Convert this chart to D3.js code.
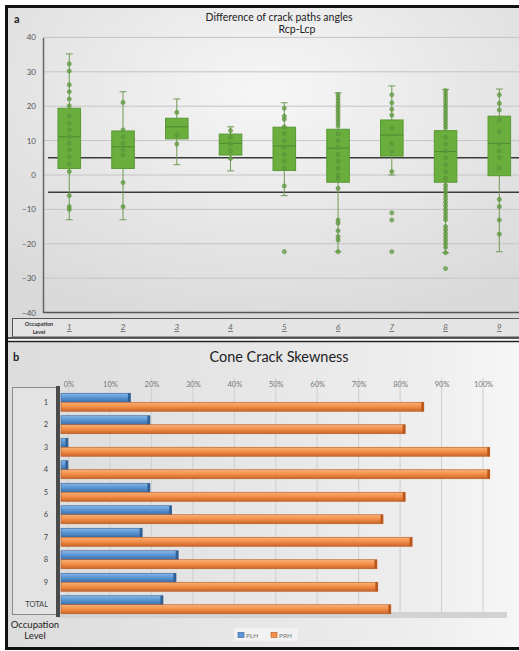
<!DOCTYPE html>
<html>
<head>
<meta charset="utf-8">
<script src="https://cdn.jsdelivr.net/npm/d3@7"></script>
<style>
  html, body { margin: 0; padding: 0; background: #ffffff; }
  svg { display: block; }
  text { font-family: Lato, "Open Sans", "DejaVu Sans", sans-serif; }
</style>
</head>
<body>
<script>
// ---------- Panel a: difference of crack path angles (Rcp - Lcp) ----------
const occupationLevels = ['1', '2', '3', '4', '5', '6', '7', '8', '9'];
const whiskerMin = [-13, -13, 3, 1.2, -6, -22.3, 0, -22.6, -22.3];
const quartile1  = [1.9, 1.9, 10.5, 5.8, 1.3, -2.1, 5.5, -2.1, -0.2];
const medians    = [11.1, 8.2, 14, 9.2, 8.4, 7.8, 11.6, 6.8, 9.2];
const quartile3  = [19.4, 12.8, 16.5, 11.9, 13.9, 13.3, 16, 12.9, 17.1];
const whiskerMax = [35.2, 24.2, 22.1, 14, 21, 23.9, 25.9, 24.9, 25];
const observations = [
  [32.3, 30.2, 26.2, 24.2, 22.1, 20.1, 17.1, 15, 13.1, 11.1, 9.2, 7.3, 5.3, 3.3, 1, -6, -9.2, -10],
  [21.1, 13.1, 11, 9.2, 7.3, 5.8, -2.2, -9.2],
  [18.2, 11.6, 9],
  [12.9, 11, 9, 7, 4.8],
  [19.4, 17.1, 16.2, 14, 12, 10, 8, 6, 4, 2, -3.2, -22.3],
  [23.3, 22.4, 21.5, 20.6, 19.7, 18.8, 17.9, 17, 16.1, 15.2, 14.3, 12, 10, 8, 6, 4, 2, 0, -1, -3.9,
   -13.1, -14, -16.2, -17.9, -18.9, -22.3],
  [23.3, 21, 19.1, 17.4, 13.6, 9.2, 6.8, 1, -11, -13.1, -22.3],
  [24.5, 23.6, 22.7, 21.8, 20.9, 20, 19.1, 18.2, 17.3, 16.4, 15.5, 14.6, 13.7, 11, 9, 7, 5, 3, 1, -1,
   -3, -4, -5, -6, -7, -8, -9, -10, -11, -12, -13, -15, -16, -17, -18, -19, -20, -21, -22.6, -27.2],
  [23.3, 20.8, 18.9, 16, 12.6, 9, 7, 5, 2, -7.1, -9.2, -13.1, -17.2]
];
const angleTicks = [40, 30, 20, 10, 0, -10, -20, -30, -40];
const referenceLines = [5, -5];

// ---------- Panel b: cone crack skewness ----------
const skewRows = ['1', '2', '3', '4', '5', '6', '7', '8', '9', 'TOTAL'];
const skewSeries = ['PLH', 'PRH'];
const plhShare = [0.16, 0.205, 0.016, 0.016, 0.205, 0.255, 0.187, 0.27, 0.265, 0.235];
const prhShare = [0.836, 0.793, 0.988, 0.988, 0.793, 0.742, 0.809, 0.728, 0.73, 0.76];
const percentTicks = [0, 0.1, 0.2, 0.3, 0.4, 0.5, 0.6, 0.7, 0.8, 0.9, 1.0];

const W = 519, H = 651;
const svg = d3.select('body').append('svg').attr('width', W).attr('height', H);
const defs = svg.append('defs');

// Background gradients
const gA = defs.append('radialGradient').attr('id', 'bgA').attr('cx', '50%').attr('cy', '25%').attr('r', '75%');
gA.append('stop').attr('offset', '0%').attr('stop-color', '#f6f6f6');
gA.append('stop').attr('offset', '100%').attr('stop-color', '#d9d9d9');
const gB = defs.append('linearGradient').attr('id', 'bgB').attr('x1', 0).attr('y1', 0).attr('x2', 1).attr('y2', 0);
gB.append('stop').attr('offset', '0%').attr('stop-color', '#dcdcdc');
gB.append('stop').attr('offset', '80%').attr('stop-color', '#eeeeee');
gB.append('stop').attr('offset', '100%').attr('stop-color', '#f7f7f7');
const gBlue = defs.append('linearGradient').attr('id', 'gBlue').attr('x1', 0).attr('y1', 0).attr('x2', 0).attr('y2', 1);
gBlue.append('stop').attr('offset', '0%').attr('stop-color', '#8bb8e6');
gBlue.append('stop').attr('offset', '45%').attr('stop-color', '#5b97d6');
gBlue.append('stop').attr('offset', '100%').attr('stop-color', '#3d6fa8');
const gOr = defs.append('linearGradient').attr('id', 'gOr').attr('x1', 0).attr('y1', 0).attr('x2', 0).attr('y2', 1);
gOr.append('stop').attr('offset', '0%').attr('stop-color', '#f7b27a');
gOr.append('stop').attr('offset', '45%').attr('stop-color', '#f4914a');
gOr.append('stop').attr('offset', '100%').attr('stop-color', '#c9652a');

// Outer frame and panel backgrounds
svg.append('rect').attr('x', 8).attr('y', 8).attr('width', W).attr('height', 330).attr('fill', 'url(#bgA)');
svg.append('rect').attr('x', 8).attr('y', 342).attr('width', W).attr('height', 305).attr('fill', 'url(#bgB)');
svg.append('rect').attr('x', 6.5).attr('y', 6.5).attr('width', W).attr('height', 642)
  .attr('fill', 'none').attr('stroke', '#111').attr('stroke-width', 3);
svg.append('line').attr('x1', 8).attr('x2', W).attr('y1', 338).attr('y2', 338).attr('stroke', '#222').attr('stroke-width', 1.5);
svg.append('line').attr('x1', 8).attr('x2', W).attr('y1', 341.5).attr('y2', 341.5).attr('stroke', '#222').attr('stroke-width', 1.5);

// ================= Panel a =================
const y = d3.scaleLinear().domain([-40, 40]).range([312.6, 37.4]);
const x = d3.scaleBand().domain(occupationLevels).range([42.4, 526.2]).paddingInner(0.58).paddingOuter(0.29);
const cx = d => x(d) + x.bandwidth() / 2;

svg.append('text').attr('x', 14).attr('y', 23).attr('font-size', 11).attr('font-weight', 700).attr('fill', '#222').text('a');
svg.append('text').attr('x', 279).attr('y', 21).attr('text-anchor', 'middle').attr('font-size', 10.5).attr('fill', '#222')
  .text('Difference of crack paths angles');
svg.append('text').attr('x', 297).attr('y', 33).attr('text-anchor', 'middle').attr('font-size', 10.5).attr('fill', '#222')
  .text('Rcp-Lcp');

// Gridlines
svg.append('g').selectAll('line').data(angleTicks.filter(t => t > -40)).join('line')
  .attr('x1', 43).attr('x2', W).attr('y1', d => y(d)).attr('y2', d => y(d))
  .attr('stroke', '#c4c4c4').attr('stroke-width', 1);

// Y axis
const yAxis = svg.append('g').attr('transform', 'translate(43,0)')
  .call(d3.axisLeft(y).tickValues(angleTicks).tickSize(0).tickPadding(7));
yAxis.select('.domain').attr('stroke', '#666').attr('stroke-width', 1.5);
yAxis.selectAll('text').attr('font-size', 8).attr('fill', '#555');
svg.append('line').attr('x1', 43).attr('x2', W).attr('y1', y(-40)).attr('y2', y(-40)).attr('stroke', '#555').attr('stroke-width', 1.5);

// Reference band lines
svg.append('g').selectAll('line').data(referenceLines).join('line')
  .attr('x1', 48).attr('x2', W).attr('y1', d => y(d)).attr('y2', d => y(d))
  .attr('stroke', '#3a3a3a').attr('stroke-width', 1.6);

// Boxes
const boxes = svg.append('g').selectAll('g').data(occupationLevels).join('g');
boxes.append('line')
  .attr('x1', d => cx(d)).attr('x2', d => cx(d))
  .attr('y1', (d, i) => y(whiskerMax[i])).attr('y2', (d, i) => y(whiskerMin[i]))
  .attr('stroke', '#6f9a57').attr('stroke-width', 1);
boxes.append('g').selectAll('line').data((d, i) => [whiskerMax[i], whiskerMin[i]].map(v => ({ d, v }))).join('line')
  .attr('x1', e => cx(e.d) - 3.5).attr('x2', e => cx(e.d) + 3.5)
  .attr('y1', e => y(e.v)).attr('y2', e => y(e.v))
  .attr('stroke', '#6f9a57').attr('stroke-width', 1);
boxes.append('rect')
  .attr('x', d => x(d)).attr('width', x.bandwidth())
  .attr('y', (d, i) => y(quartile3[i])).attr('height', (d, i) => y(quartile1[i]) - y(quartile3[i]))
  .attr('fill', '#6aae3d').attr('stroke', '#5a9a34').attr('stroke-width', 1);
boxes.append('line')
  .attr('x1', d => x(d)).attr('x2', d => x(d) + x.bandwidth())
  .attr('y1', (d, i) => y(medians[i])).attr('y2', (d, i) => y(medians[i]))
  .attr('stroke', '#4c7f2c').attr('stroke-width', 0.8);
boxes.append('g').selectAll('circle').data((d, i) => observations[i].map(v => ({ d, v }))).join('circle')
  .attr('cx', e => cx(e.d)).attr('cy', e => y(e.v)).attr('r', 2.1)
  .attr('fill', '#5e9a3c').attr('fill-opacity', 0.75).attr('stroke', '#568f36').attr('stroke-width', 0.5);

// Category strip
svg.append('rect').attr('x', 12.5).attr('y', 318.5).attr('width', W).attr('height', 18.5)
  .attr('fill', '#e4e4e4').attr('stroke', '#555').attr('stroke-width', 1);
svg.append('text').attr('x', 39).attr('y', 326).attr('text-anchor', 'middle').attr('font-size', 5.5).attr('font-weight', 700).attr('fill', '#333').text('Occupation');
svg.append('text').attr('x', 39).attr('y', 333.5).attr('text-anchor', 'middle').attr('font-size', 5.5).attr('font-weight', 700).attr('fill', '#333').text('Level');
svg.append('g').selectAll('text').data(occupationLevels).join('text')
  .attr('x', d => cx(d)).attr('y', 330).attr('text-anchor', 'middle')
  .attr('font-size', 8.5).attr('font-style', 'italic').attr('text-decoration', 'underline')
  .attr('fill', '#666').text(d => d);

// ================= Panel b =================
svg.append('text').attr('x', 13).attr('y', 361).attr('font-size', 11).attr('font-weight', 700).attr('fill', '#222').text('b');
svg.append('text').attr('x', 279).attr('y', 362).attr('text-anchor', 'middle').attr('font-size', 14.5).attr('fill', '#222')
  .text('Cone Crack Skewness');

// Back wall axis scale and bar scale
const xWall = d3.scaleLinear().domain([0, 1]).range([68.5, 483]);
const xBar = d3.scaleLinear().domain([0, 1]).range([61, 495]);
const rowBand = d3.scaleBand().domain(skewRows).range([391, 616]).paddingInner(0.2).paddingOuter(0.1);
const seriesBand = d3.scaleBand().domain(skewSeries).range([0, rowBand.bandwidth()]);

// Vertical gridlines on the back wall
svg.append('g').selectAll('line').data(percentTicks).join('line')
  .attr('x1', d => xWall(d)).attr('x2', d => xWall(d)).attr('y1', 378).attr('y2', 613)
  .attr('stroke', '#cfcfcf').attr('stroke-width', 1);

const xAxisB = svg.append('g').attr('transform', 'translate(0,387)')
  .call(d3.axisTop(xWall).tickValues(percentTicks).tickFormat(d3.format('.0%')).tickSize(0).tickPadding(0));
xAxisB.select('.domain').remove();
xAxisB.selectAll('text').attr('font-size', 7.5).attr('fill', '#777');

// Floor and category wall
svg.append('rect').attr('x', 57).attr('y', 612).attr('width', 450).attr('height', 6).attr('fill', '#d2d2d2');
svg.append('rect').attr('x', 12.5).attr('y', 387.5).attr('width', 45).attr('height', 227)
  .attr('fill', '#e3e3e3').attr('stroke', '#8a8a8a').attr('stroke-width', 1);
svg.append('rect').attr('x', 56).attr('y', 386).attr('width', 4).attr('height', 231).attr('fill', '#4a4a4a');

svg.append('g').selectAll('text').data(skewRows).join('text')
  .attr('x', 48).attr('y', d => rowBand(d) + rowBand.bandwidth() / 2 + 2.5)
  .attr('text-anchor', 'end').attr('font-size', 7.5).attr('fill', '#444').text(d => d);

// Bars
const shares = { PLH: plhShare, PRH: prhShare };
const fills = { PLH: 'url(#gBlue)', PRH: 'url(#gOr)' };
const caps = { PLH: '#2f5f95', PRH: '#b9561c' };
const barData = [];
skewRows.forEach((r, i) => skewSeries.forEach(s => barData.push({ r, s, v: shares[s][i] })));
const bars = svg.append('g').selectAll('g').data(barData).join('g');
bars.append('rect')
  .attr('x', xBar(0)).attr('y', d => rowBand(d.r) + seriesBand(d.s))
  .attr('width', d => xBar(d.v) - xBar(0)).attr('height', seriesBand.bandwidth())
  .attr('fill', d => fills[d.s]).attr('stroke', d => caps[d.s]).attr('stroke-width', 0.6);
bars.append('rect')
  .attr('x', d => xBar(d.v) - 2.5).attr('y', d => rowBand(d.r) + seriesBand(d.s))
  .attr('width', 2.5).attr('height', seriesBand.bandwidth())
  .attr('fill', d => caps[d.s]);

// Axis title and legend
svg.append('text').attr('x', 35).attr('y', 628).attr('text-anchor', 'middle').attr('font-size', 9.5).attr('fill', '#222').text('Occupation');
svg.append('text').attr('x', 35).attr('y', 639).attr('text-anchor', 'middle').attr('font-size', 9.5).attr('fill', '#222').text('Level');

const legend = svg.append('g').attr('transform', 'translate(236,630)');
legend.append('rect').attr('x', -2).attr('y', -2).attr('width', 64).attr('height', 13).attr('fill', '#f2f2f2');
const legendItem = legend.selectAll('g').data(skewSeries).join('g')
  .attr('transform', (d, i) => `translate(${i * 33},0)`);
legendItem.append('rect').attr('x', 2).attr('y', 2.5).attr('width', 6).attr('height', 5)
  .attr('fill', d => d === 'PLH' ? '#5b97d6' : '#f4914a').attr('stroke', d => caps[d]).attr('stroke-width', 0.6);
legendItem.append('text').attr('x', 10).attr('y', 8).attr('font-size', 6.5).attr('fill', '#777').text(d => d);
</script>
</body>
</html>
